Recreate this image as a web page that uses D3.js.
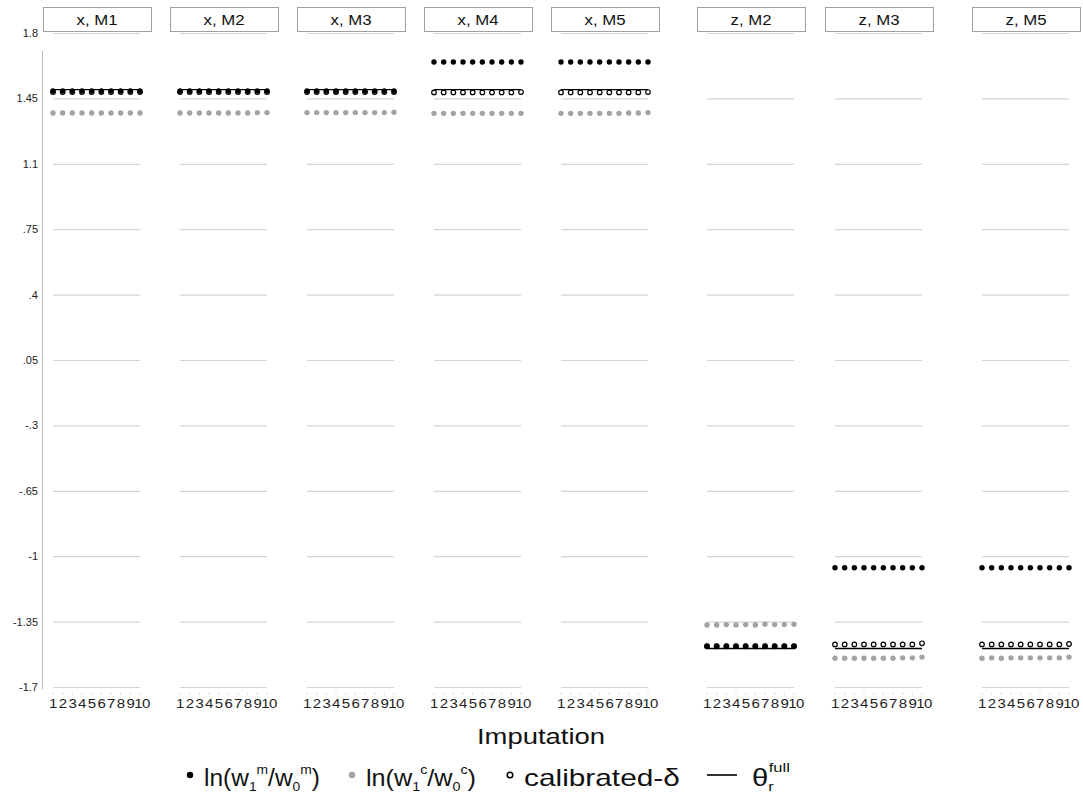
<!DOCTYPE html>
<html>
<head>
<meta charset="utf-8">
<script src="https://cdn.jsdelivr.net/npm/d3@7"></script>
<style>
  body { margin: 0; background: #fff; }
  svg { font-family: "Liberation Sans", Arial, sans-serif; }
</style>
</head>
<body>
<svg id="svg" width="1083" height="800"></svg>
<script>
// panels and values
const panels = ["x, M1", "x, M2", "x, M3", "x, M4", "x, M5", "z, M2", "z, M3", "z, M5"];
const imputations = [1, 2, 3, 4, 5, 6, 7, 8, 9, 10];
const yTicks = [1.8, 1.45, 1.1, 0.75, 0.4, 0.05, -0.3, -0.65, -1, -1.35, -1.7];

// ln(w1m/w0m) - black dots
const mlRatio = [
  [1.49, 1.49, 1.49, 1.49, 1.49, 1.49, 1.49, 1.49, 1.49, 1.49],
  [1.49, 1.49, 1.49, 1.49, 1.49, 1.49, 1.49, 1.49, 1.49, 1.49],
  [1.49, 1.49, 1.49, 1.49, 1.49, 1.49, 1.49, 1.49, 1.49, 1.49],
  [1.645, 1.645, 1.645, 1.645, 1.645, 1.645, 1.645, 1.645, 1.645, 1.645],
  [1.645, 1.645, 1.645, 1.645, 1.645, 1.645, 1.645, 1.645, 1.645, 1.645],
  [-1.482, -1.482, -1.482, -1.482, -1.482, -1.482, -1.482, -1.482, -1.482, -1.482],
  [-1.062, -1.062, -1.062, -1.062, -1.062, -1.062, -1.062, -1.062, -1.062, -1.062],
  [-1.062, -1.062, -1.062, -1.062, -1.062, -1.062, -1.062, -1.062, -1.062, -1.062]
];
// ln(w1c/w0c) - grey dots
const ccRatio = [
  [1.372, 1.372, 1.372, 1.372, 1.372, 1.372, 1.372, 1.372, 1.372, 1.372],
  [1.372, 1.372, 1.372, 1.372, 1.372, 1.372, 1.372, 1.372, 1.374, 1.374],
  [1.374, 1.374, 1.374, 1.374, 1.374, 1.374, 1.374, 1.374, 1.374, 1.376],
  [1.370, 1.370, 1.370, 1.370, 1.370, 1.370, 1.370, 1.370, 1.370, 1.370],
  [1.370, 1.370, 1.370, 1.370, 1.370, 1.370, 1.370, 1.372, 1.372, 1.374],
  [-1.368, -1.368, -1.366, -1.368, -1.366, -1.368, -1.364, -1.366, -1.366, -1.364],
  [-1.546, -1.546, -1.546, -1.546, -1.546, -1.546, -1.546, -1.544, -1.544, -1.540],
  [-1.546, -1.544, -1.546, -1.544, -1.544, -1.544, -1.544, -1.544, -1.544, -1.540]
];
// calibrated-delta - open circles
const calibDelta = [
  [1.484, 1.484, 1.484, 1.484, 1.484, 1.484, 1.484, 1.484, 1.484, 1.484],
  [1.484, 1.484, 1.484, 1.484, 1.484, 1.484, 1.484, 1.484, 1.484, 1.484],
  [1.484, 1.484, 1.484, 1.484, 1.484, 1.484, 1.484, 1.484, 1.484, 1.484],
  [1.482, 1.482, 1.482, 1.482, 1.482, 1.482, 1.482, 1.482, 1.482, 1.484],
  [1.482, 1.482, 1.482, 1.482, 1.482, 1.482, 1.482, 1.482, 1.482, 1.484],
  [-1.482, -1.482, -1.482, -1.482, -1.482, -1.482, -1.482, -1.482, -1.482, -1.482],
  [-1.472, -1.472, -1.472, -1.472, -1.472, -1.472, -1.472, -1.472, -1.472, -1.466],
  [-1.472, -1.472, -1.472, -1.472, -1.472, -1.472, -1.472, -1.472, -1.472, -1.470]
];
// theta_r^full - line
const thetaFull = [1.497, 1.497, 1.497, 1.497, 1.497, -1.494, -1.494, -1.494];

// layout
const panelLeft = [43, 170, 297, 424, 551, 697, 825, 972];
const panelW = 108;
const grey = "#a3a3a3";

const svg = d3.select("svg");

const y = d3.scaleLinear()
  .domain([-1.7, 1.8])
  .range([687, 33]);

const fmt = v => String(+v.toFixed(2)).replace(/^(-?)0\./, "$1.");

// stretch a text horizontally so it spans a given width (the source font is wide)
function fitWidth(g, width) {
  const w = g.node().getBBox().width;
  const t = g.attr("transform") || "";
  g.attr("transform", `${t} scale(${width / w},1)`);
}

// y axis
const yAxis = svg.append("g")
  .attr("transform", "translate(42,0)")
  .call(d3.axisLeft(y).tickValues(yTicks).tickFormat(fmt).tickSize(0).tickPadding(4));
yAxis.select(".domain").remove();
yAxis.selectAll("text")
  .attr("font-size", 11)
  .attr("fill", "#222")
  .attr("font-family", "Liberation Sans, Arial, sans-serif");
svg.append("line")
  .attr("x1", 42.5).attr("x2", 42.5)
  .attr("y1", 51).attr("y2", 689)
  .attr("stroke", "#bcbcbc");

panels.forEach((name, i) => {
  const left = panelLeft[i];
  const x = d3.scaleLinear().domain([1, 10]).range([left + 10, left + 97]);
  const g = svg.append("g");

  // grid lines
  g.selectAll("line.grid")
    .data(yTicks)
    .enter().append("line")
    .attr("class", "grid")
    .attr("x1", x(1)).attr("x2", x(10))
    .attr("y1", d => y(d) + 0.5).attr("y2", d => y(d) + 0.5)
    .attr("stroke", "#d4d4d4")
    .attr("stroke-width", 1.2);

  // header
  g.append("rect")
    .attr("x", left + 0.5).attr("y", 7.5)
    .attr("width", panelW).attr("height", 24)
    .attr("fill", "#fff")
    .attr("stroke", "#a0a0a0");
  g.append("text")
    .attr("transform", `translate(${left + panelW / 2},25) scale(1.12,1)`)
    .attr("text-anchor", "middle")
    .attr("font-size", 15)
    .attr("fill", "#111")
    .text(name);

  // x ticks
  g.selectAll("line.tick")
    .data(imputations)
    .enter().append("line")
    .attr("x1", d => x(d)).attr("x2", d => x(d))
    .attr("y1", 692).attr("y2", 695)
    .attr("stroke", "#e2e2e2");
  g.selectAll("text.tick")
    .data(imputations)
    .enter().append("text")
    .attr("transform", d => `translate(${x(d) + (d === 10 ? 2 : 0)},708) scale(1.25,1)`)
    .attr("text-anchor", "middle")
    .attr("font-size", 12)
    .attr("letter-spacing", -0.4)
    .attr("fill", "#222")
    .text(d => d);

  // grey dots
  g.selectAll("circle.cc")
    .data(ccRatio[i])
    .enter().append("circle")
    .attr("cx", (d, j) => x(imputations[j]))
    .attr("cy", d => y(d))
    .attr("r", 2.7)
    .attr("fill", grey);

  // open circles
  g.selectAll("circle.cd")
    .data(calibDelta[i])
    .enter().append("circle")
    .attr("cx", (d, j) => x(imputations[j]))
    .attr("cy", d => y(d))
    .attr("r", 2.3)
    .attr("fill", "#fff")
    .attr("stroke", "#000")
    .attr("stroke-width", 1.2);

  // black dots
  g.selectAll("circle.ml")
    .data(mlRatio[i])
    .enter().append("circle")
    .attr("cx", (d, j) => x(imputations[j]))
    .attr("cy", d => y(d))
    .attr("r", 2.7)
    .attr("fill", "#000");

  // theta full line
  g.append("line")
    .attr("x1", x(1)).attr("x2", x(10))
    .attr("y1", y(thetaFull[i])).attr("y2", y(thetaFull[i]))
    .attr("stroke", "#000")
    .attr("stroke-width", 1.4);
});

// x title
const title = svg.append("g").attr("transform", "translate(477,744)");
title.append("text")
  .attr("font-size", 22)
  .attr("fill", "#111")
  .text("Imputation");
fitWidth(title, 128);

// legend
const leg = svg.append("g").attr("font-size", 23).attr("fill", "#111");
const ly = 786;
leg.append("circle").attr("cx", 190).attr("cy", ly - 11).attr("r", 3.2).attr("fill", "#000");
leg.append("circle").attr("cx", 352).attr("cy", ly - 11).attr("r", 3.2).attr("fill", grey);
leg.append("circle").attr("cx", 510).attr("cy", ly - 11).attr("r", 2.8)
  .attr("fill", "#fff").attr("stroke", "#000").attr("stroke-width", 1.5);
leg.append("line").attr("x1", 707).attr("x2", 737).attr("y1", ly - 11).attr("y2", ly - 11)
  .attr("stroke", "#000").attr("stroke-width", 1.6);

function ratioLabel(xPos, s, width) {
  const g = leg.append("g").attr("transform", `translate(${xPos},${ly})`);
  const t = g.append("text");
  t.append("tspan").text("ln(w");
  t.append("tspan").attr("font-size", 13).attr("dy", 5).text("1");
  t.append("tspan").attr("font-size", 13).attr("dy", -17).text(s);
  t.append("tspan").attr("dy", 12).text("/w");
  t.append("tspan").attr("font-size", 13).attr("dy", 5).text("0");
  t.append("tspan").attr("font-size", 13).attr("dy", -17).text(s);
  t.append("tspan").attr("dy", 12).text(")");
  fitWidth(g, width);
}
ratioLabel(204, "m", 116);
ratioLabel(366, "c", 110);

const cal = leg.append("g").attr("transform", `translate(524,${ly})`);
cal.append("text").text("calibrated-δ");
fitWidth(cal, 156);

const thg = leg.append("g").attr("transform", `translate(752,${ly})`);
const th = thg.append("text");
th.append("tspan").text("θ");
th.append("tspan").attr("font-size", 13).attr("dy", 5).text("r");
th.append("tspan").attr("font-size", 13).attr("dy", -19).attr("dx", -4).text("full");
fitWidth(thg, 38);
</script>
</body>
</html>
